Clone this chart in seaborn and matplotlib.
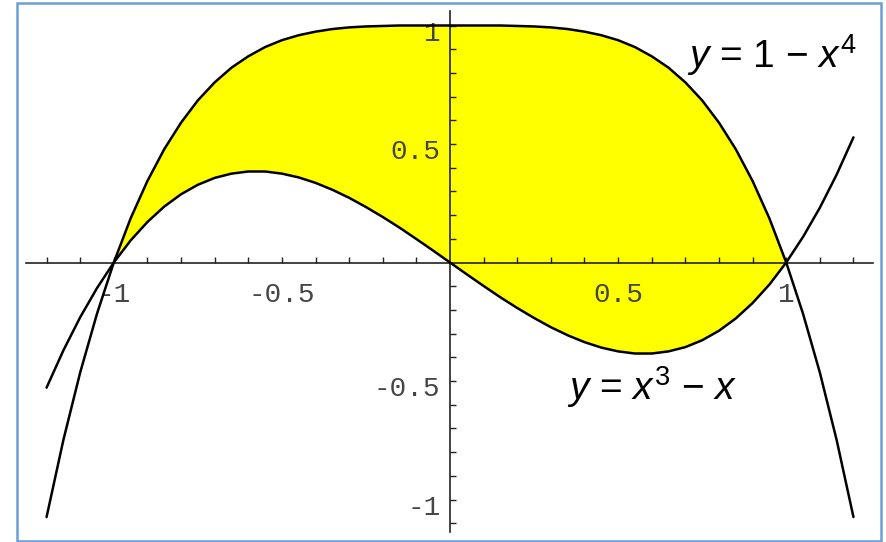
import numpy as np
import matplotlib
matplotlib.use('Agg')
import matplotlib.pyplot as plt
import matplotlib.transforms as mtransforms
from matplotlib.patches import Rectangle
import seaborn as sns

x_vals = [-1.2, -1.15, -1.1, -1.05, -1.0, -0.95, -0.9, -0.85, -0.8, -0.75,
          -0.7, -0.65, -0.6, -0.55, -0.5, -0.45, -0.4, -0.35, -0.3, -0.25,
          -0.2, -0.15, -0.1, -0.05, 0.0, 0.05, 0.1, 0.15, 0.2, 0.25,
          0.3, 0.35, 0.4, 0.45, 0.5, 0.55, 0.6, 0.65, 0.7, 0.75,
          0.8, 0.85, 0.9, 0.95, 1.0, 1.05, 1.1, 1.15, 1.2]

# y = 1 - x^4
quartic = [-1.074, -0.749, -0.464, -0.216, 0.0, 0.186, 0.344, 0.478, 0.590, 0.684,
           0.760, 0.822, 0.870, 0.909, 0.938, 0.959, 0.974, 0.985, 0.992, 0.996,
           0.998, 1.0, 1.0, 1.0, 1.0, 1.0, 1.0, 1.0, 0.998, 0.996,
           0.992, 0.985, 0.974, 0.959, 0.938, 0.909, 0.870, 0.822, 0.760, 0.684,
           0.590, 0.478, 0.344, 0.186, 0.0, -0.216, -0.464, -0.749, -1.074]

# y = x^3 - x
cubic = [-0.528, -0.371, -0.231, -0.108, 0.0, 0.093, 0.171, 0.236, 0.288, 0.328,
         0.357, 0.375, 0.384, 0.384, 0.375, 0.359, 0.336, 0.307, 0.273, 0.234,
         0.192, 0.147, 0.099, 0.050, 0.0, -0.050, -0.099, -0.147, -0.192, -0.234,
         -0.273, -0.307, -0.336, -0.359, -0.375, -0.384, -0.384, -0.375, -0.357, -0.328,
         -0.288, -0.236, -0.171, -0.093, 0.0, 0.108, 0.231, 0.371, 0.528]

x_ticks = [-1, -0.5, 0.5, 1]
x_tick_labels = ['-1', '-0.5', '0.5', '1']
y_ticks = [-1, -0.5, 0.5, 1]
y_tick_labels = ['-1', '-0.5', '0.5', '1']
minor_ticks = [v / 10 for v in range(-12, 13) if v % 5 != 0]
minor_y_ticks = [v / 10 for v in range(-11, 11) if v % 5 != 0]

label_top = r'$y$ = 1 $-$ $x^4$'
label_bottom = r'$y$ = $x^3$ $-$ $x$'

sns.set_style('white')
plt.rcParams['font.family'] = ['Liberation Sans', 'DejaVu Sans']
plt.rcParams['mathtext.fontset'] = 'custom'
plt.rcParams['mathtext.rm'] = 'Liberation Sans'
plt.rcParams['mathtext.it'] = 'Liberation Sans:italic'

fig = plt.figure(figsize=(8.86, 5.42), dpi=100)
ax = fig.add_axes([0, 0, 1, 1])
ax.set_facecolor('none')
ax.set_axisbelow(False)

df_x = np.array(x_vals)
inside = (df_x >= -1.0) & (df_x <= 1.0)
ax.fill_between(df_x, quartic, cubic, where=inside, color='#ffff00', lw=0, zorder=1)

sns.lineplot(x=x_vals, y=quartic, sort=False, estimator=None, color='black', lw=1.8, ax=ax, zorder=3)
sns.lineplot(x=x_vals, y=cubic, sort=False, estimator=None, color='black', lw=1.8, ax=ax, zorder=3)

ax.set_xlim(-1.3385, 1.2968)
ax.set_ylim(-1.1793, 1.1076)

# axes through the origin
for side in ['top', 'right']:
    ax.spines[side].set_visible(False)
ax.spines['bottom'].set_position(('data', 0))
ax.spines['left'].set_position(('data', 0))
ax.spines['bottom'].set_bounds(-1.261, 1.258)
ax.spines['left'].set_bounds(-1.137, 1.061)
for side in ['bottom', 'left']:
    ax.spines[side].set_color('#222222')
    ax.spines[side].set_linewidth(1.2)
    ax.spines[side].set_zorder(2)

ax.set_xticks(x_ticks)
ax.set_xticklabels(x_tick_labels)
ax.set_xticks(minor_ticks, minor=True)
ax.set_yticks(y_ticks)
ax.set_yticklabels(y_tick_labels)
ax.set_yticks(minor_y_ticks, minor=True)
ax.tick_params(which='both', direction='in', length=4.5, width=1.0, color='#222222')
ax.tick_params(axis='x', which='major', pad=14)
ax.tick_params(axis='y', which='major', pad=7)
ax.xaxis.set_ticks_position('bottom')
ax.yaxis.set_ticks_position('left')

for lab in ax.get_xticklabels() + ax.get_yticklabels():
    lab.set_family('Liberation Mono')
    lab.set_fontsize(20)
    lab.set_color('#454545')
for lab in ax.get_yticklabels():
    lab.set_transform(lab.get_transform() + mtransforms.ScaledTranslation(0, -0.05, fig.dpi_scale_trans))
ax.grid(False)

ax.text(1.21, 0.82, label_top, fontsize=28, color='black', ha='right', va='baseline', zorder=5)
ax.text(0.348, -0.58, label_bottom, fontsize=28, color='black', ha='left', va='baseline', zorder=5)

# light blue frame around the picture
fig.patches.append(Rectangle((17 / 886, 1 - 541 / 542), (881 - 17) / 886, (541 - 3) / 542,
                             transform=fig.transFigure, fill=False,
                             edgecolor='#6a9fd8', lw=1.8, zorder=10))

fig.savefig('out.png', dpi=100)
